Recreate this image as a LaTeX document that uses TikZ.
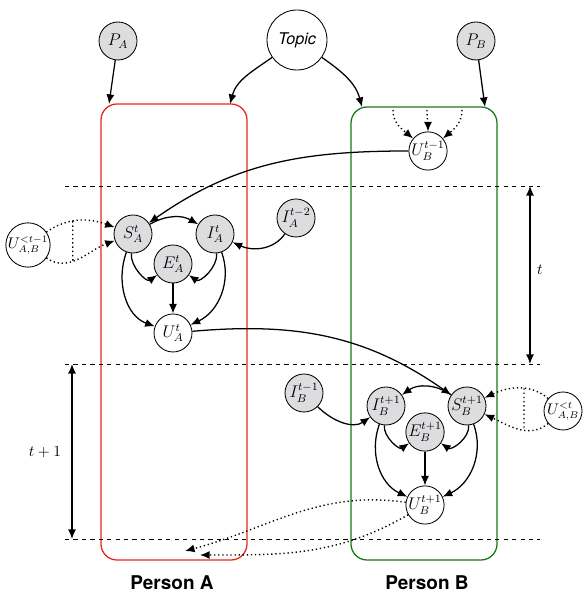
\documentclass[tikz,border=0pt]{standalone}
\usepackage{fontspec}
\newfontfamily\helv{TeX Gyre Heros}
\usepackage{amsmath}
\usetikzlibrary{arrows.meta}
\usetikzlibrary{positioning,calc}
\definecolor{boxred}{RGB}{232,38,26}
\definecolor{boxgreen}{RGB}{24,120,24}
\definecolor{obsgray}{RGB}{221,221,223}
\tikzset{dimen/.style={->,>={Latex[length=2.4mm,width=2mm]},line width=0.9pt}}

\begin{document}
\begin{tikzpicture}
		\tikzstyle{Obs}=[circle,fill=obsgray,draw=black,line width=0.6pt,minimum size=0.95cm,inner sep=0pt,font=\fontsize{11.5}{13}\selectfont]
		\tikzstyle{Lat}=[circle,fill=white,draw=black,line width=0.6pt,minimum size=0.95cm,inner sep=0pt,font=\fontsize{11.5}{13}\selectfont]
		\tikzstyle{Person}=[rectangle,rounded corners=0.4cm,line width=0.9pt,minimum width=3.65cm]
		\tikzstyle{Slice}=[dashed,line width=0.6pt]
		\tikzstyle{Msg}=[dotted,line width=1pt]

		\useasboundingbox (0,0) rectangle (14.675,14.85);

		% persons
		\node [Person,draw=boxred,minimum height=11.4cm] (BoxA) at (4.35,6.55) {};
		\node [Person,draw=boxgreen,minimum height=11.325cm] (BoxB) at (10.6,6.5125) {};
		\node [font=\helv\bfseries\fontsize{13.5}{15}\selectfont] (LabA) at (4.3,0.275) {Person A};
		\node [font=\helv\bfseries\fontsize{13.5}{15}\selectfont] (LabB) at (10.675,0.275) {Person B};

		% time slices
		\coordinate (L1) at (1.625,10.2);  \coordinate (R1) at (13.5,10.2);
		\coordinate (L2) at (1.625,5.75);  \coordinate (R2) at (13.5,5.75);
		\coordinate (L3) at (1.625,1.375); \coordinate (R3) at (13.5,1.375);
		\draw [Slice] (L1) -- (R1);
		\draw [Slice] (L2) -- (R2);
		\draw [Slice] (L3) -- (R3);
		\coordinate (tTop) at (13.25,10.2); \coordinate (tBot) at (13.25,5.75);
		\coordinate (sTop) at (1.8,5.75);   \coordinate (sBot) at (1.8,1.375);
		\draw [dimen,<->] (tTop) -- (tBot);
		\draw [dimen,<->] (sTop) -- (sBot);
		\node [font=\fontsize{11}{13}\selectfont] (tLab) at (13.5,8.1) {$t$};
		\node [font=\fontsize{11}{13}\selectfont] (sLab) at (1.125,3.55) {$t+1$};

		% top
		\node [Obs] (PA) at (2.95,13.825) {$P_A$};
		\node [Lat,minimum size=1.5cm] (Topic) at (7.425,13.85) {\helv\itshape\fontsize{11.5}{13}\selectfont Topic};
		\node [Obs] (PB) at (11.9,13.825) {$P_B$};
		\coordinate (inA1) at (2.725,12.25);
		\coordinate (inA2) at (5.75,12.25);
		\coordinate (inB2) at (9.05,12.175);
		\coordinate (inB1) at (12.125,12.175);
		\draw [dimen] (PA) -- (inA1);
		\draw [dimen] (Topic) to[out=-145,in=75] (inA2);
		\draw [dimen] (Topic) to[out=-35,in=105] (inB2);
		\draw [dimen] (PB) -- (inB1);

		\node [Lat] (UBprev) at (10.7,11.075) {$U_B^{t-1}$};
		\foreach \x/\a [count=\cnt] in {9.825/140, 10.675/90, 11.55/40}
		{
			\coordinate (dB\cnt) at (\x,12.1);
			\draw [dimen,Msg] (dB\cnt) to[out=-90,in=\a] (UBprev);
		}

		% slice t, person A
		\node [Obs] (SA) at (3.325,9.0) {$S_A^t$};
		\node [Obs] (IA) at (5.375,9.0) {$I_A^t$};
		\node [Obs] (EA) at (4.325,8.25) {$E_A^t$};
		\node [Lat] (UA) at (4.325,6.525) {$U_A^t$};
		\node [Obs] (IAprev) at (7.4,9.4) {$I_A^{t-2}$};
		\node [Lat,font=\fontsize{10.5}{12}\selectfont] (UABprev) at (0.7,8.725) {$U_{A,B}^{<t-1}$};

		\draw [dimen] (UBprev) to[out=180,in=35] (SA);
		\draw [dimen] (SA) to[bend left=30] (IA);
		\draw [dimen] (IAprev) to[out=-125,in=-25] (IA);
		\draw [dimen] (SA) to[out=-95,in=215] (EA);
		\draw [dimen] (IA) to[out=-85,in=-35] (EA);
		\draw [dimen] (SA) to[out=-110,in=160] (UA);
		\draw [dimen] (IA) to[out=-70,in=25] (UA);
		\draw [dimen] (EA) -- (UA);
		\draw [dimen,Msg] (UABprev) to[out=35,in=160] coordinate[pos=0.4] (mA1) (SA);
		\draw [dimen,Msg] (UABprev) to[out=-35,in=200] coordinate[pos=0.4] (mA2) (SA);
		\draw [Msg] (mA1) -- (mA2);

		% slice t+1, person B
		\node [Obs] (IB) at (9.65,4.7) {$I_B^{t+1}$};
		\node [Obs] (SB) at (11.675,4.7) {$S_B^{t+1}$};
		\node [Obs] (EB) at (10.625,4.05) {$E_B^{t+1}$};
		\node [Lat] (UB) at (10.625,2.225) {$U_B^{t+1}$};
		\node [Obs] (IBprev) at (7.6,5.025) {$I_B^{t-1}$};
		\node [Lat,font=\fontsize{10.5}{12}\selectfont] (UABcur) at (14.075,4.575) {$U_{A,B}^{<t}$};

		\draw [dimen] (UA) to[out=5,in=145] (SB);
		\draw [dimen] (SB) to[bend right=35] (IB);
		\draw [dimen] (IBprev) to[out=-45,in=215] (IB);
		\draw [dimen] (IB) to[out=-95,in=215] (EB);
		\draw [dimen] (SB) to[out=-85,in=-35] (EB);
		\draw [dimen] (IB) to[out=-110,in=155] (UB);
		\draw [dimen] (SB) to[out=-70,in=25] (UB);
		\draw [dimen] (EB) -- (UB);
		\draw [dimen,Msg] (UABcur) to[out=140,in=25] coordinate[pos=0.4] (mB1) (SB);
		\draw [dimen,Msg] (UABcur) to[out=-140,in=-25] coordinate[pos=0.4] (mB2) (SB);
		\draw [Msg] (mB1) -- (mB2);

		\coordinate (backA1) at (4.625,1.075);
		\coordinate (backA2) at (5.0,0.975);
		\draw [dimen,Msg] (UB) to[out=172,in=15] (backA1);
		\draw [dimen,Msg] (UB) to[out=-150,in=0] (backA2);
\end{tikzpicture}
\end{document}
